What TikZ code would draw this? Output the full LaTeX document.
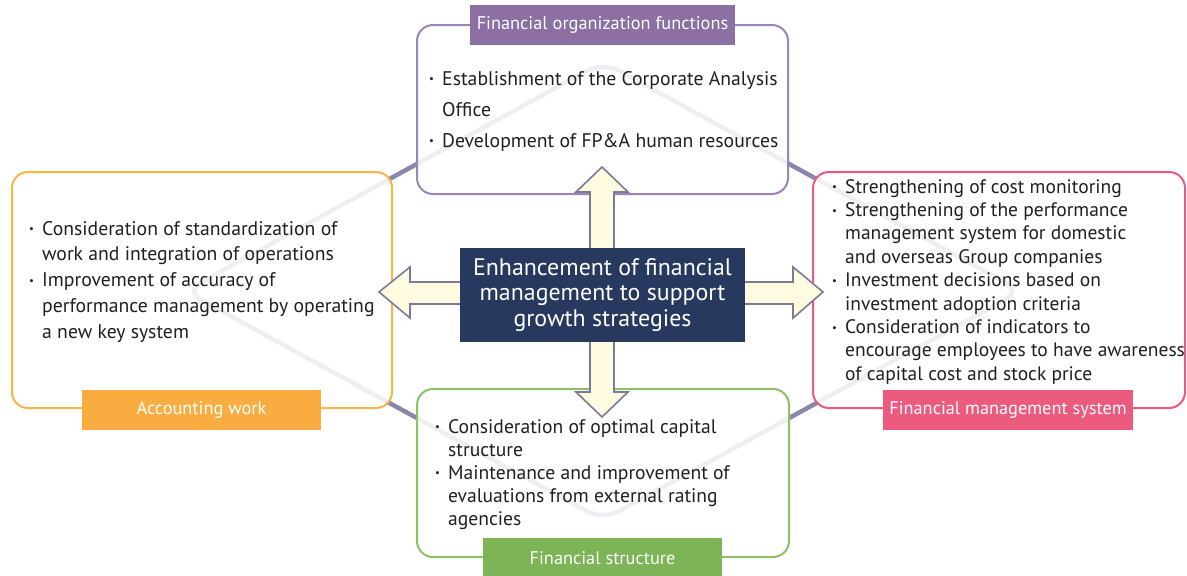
\documentclass[tikz,border=0pt]{standalone}
\usepackage{fontspec}
\setmainfont{PT Sans}
\definecolor{purpB}{HTML}{9B84B6}
\definecolor{purpF}{HTML}{8C6FA3}
\definecolor{orgB}{HTML}{F8B548}
\definecolor{orgF}{HTML}{F9AD40}
\definecolor{pinkB}{HTML}{EA5A7E}
\definecolor{pinkF}{HTML}{EC5A7E}
\definecolor{grnB}{HTML}{8EC064}
\definecolor{grnF}{HTML}{7DB456}
\definecolor{navy}{HTML}{27395F}
\definecolor{arrF}{HTML}{FEFBE1}
\definecolor{arrD}{HTML}{7D7A98}
\definecolor{diam}{HTML}{8A87A8}
\definecolor{txtc}{HTML}{231F20}
\newcommand{\bp}{\makebox[13pt][l]{\raisebox{0.12em}{\scalebox{0.55}{\textbullet}}}}
\begin{document}
\begin{tikzpicture}[x=1pt,y=-1pt,
  box/.style={draw=#1, line width=2, rounded corners=16, fill=white, fill opacity=0.87, draw opacity=1, inner sep=0},
  lab/.style={fill=#1, inner sep=0, text=white, font=\fontsize{18.3}{20}\selectfont},
  txt/.style={inner sep=0, text=txtc, anchor=base west}]
\useasboundingbox (0,0) rectangle (1187,576);
\fill[white] (0,0) rectangle (1187,576);
% background diamond
\draw[diam, line width=4.5, rounded corners=18] (812,176.5) -- (1021,291) -- (603,520) -- (185,291) -- (603,62) -- cycle;
% boxes
\node[box=purpB, minimum width=371, minimum height=169] (topbox) at (602.5,109.5) {};
\node[box=orgB, minimum width=380, minimum height=236] (leftbox) at (202,290) {};
\node[box=pinkB, minimum width=372, minimum height=236] (rightbox) at (999,290) {};
\node[box=grnB, minimum width=372, minimum height=168] (botbox) at (603,473) {};
% labels
\node[lab=purpF, minimum width=265, minimum height=40] (toplab) at (602.5,25) {Financial organization functions};
\node[lab=orgF, minimum width=239, minimum height=40] (leftlab) at (201.5,410) {Accounting work};
\node[lab=pinkF, minimum width=250, minimum height=40] (rightlab) at (1008,410) {Financial management system};
\node[lab=grnF, minimum width=239, minimum height=40] (botlab) at (602.5,558) {Financial structure};
% four-way arrow
\coordinate (c) at (602,292);
\begin{scope}[shift={(c)}]
\draw[fill=arrF, draw=arrD, line width=1.6, line join=miter]
  (0,-125) -- (26,-100) -- (12,-100) -- (12,-10) -- (191,-10) -- (191,-25) -- (221,0)
  -- (191,26) -- (191,12) -- (12,12) -- (12,100) -- (26,100) -- (0,125) -- (-26,100)
  -- (-12,100) -- (-12,12) -- (-192,12) -- (-192,26) -- (-223,0) -- (-192,-25)
  -- (-192,-10) -- (-12,-10) -- (-12,-100) -- (-26,-100) -- cycle;
\end{scope}
% center
\node[fill=navy, minimum width=285, minimum height=94, inner sep=0] (center) at (602.5,295) {};
\node[text=white, align=center, inner sep=0, font=\fontsize{23.9}{25.5}\selectfont] (centertext) at (602.5,295)
  {Enhancement of financial\\management to support\\growth strategies};
% texts
\node[txt, font=\fontsize{19.7}{31}\selectfont] (toptext) at (429,85) {\begin{tabular}[t]{@{}l@{}l@{}}
\bp & Establishment of the Corporate Analysis\\
 & Office\\
\bp & Development of FP\&A human resources
\end{tabular}};
\node[txt, font=\fontsize{19.7}{25.8}\selectfont] (lefttext) at (29,235) {\begin{tabular}[t]{@{}l@{}l@{}}
\bp & Consideration of standardization of\\
 & work and integration of operations\\
\bp & Improvement of accuracy of\\
 & performance management by operating\\
 & a new key system
\end{tabular}};
\node[txt, font=\fontsize{19.5}{23.4}\selectfont] (righttext) at (832,193) {\begin{tabular}[t]{@{}l@{}l@{}}
\bp & Strengthening of cost monitoring\\
\bp & Strengthening of the performance\\
 & management system for domestic\\
 & and overseas Group companies\\
\bp & Investment decisions based on\\
 & investment adoption criteria\\
\bp & Consideration of indicators to\\
 & encourage employees to have awareness\\
 & of capital cost and stock price
\end{tabular}};
\node[txt, font=\fontsize{19.6}{23}\selectfont] (bottext) at (435,433) {\begin{tabular}[t]{@{}l@{}l@{}}
\bp & Consideration of optimal capital\\
 & structure\\
\bp & Maintenance and improvement of\\
 & evaluations from external rating\\
 & agencies
\end{tabular}};
\end{tikzpicture}
\end{document}
